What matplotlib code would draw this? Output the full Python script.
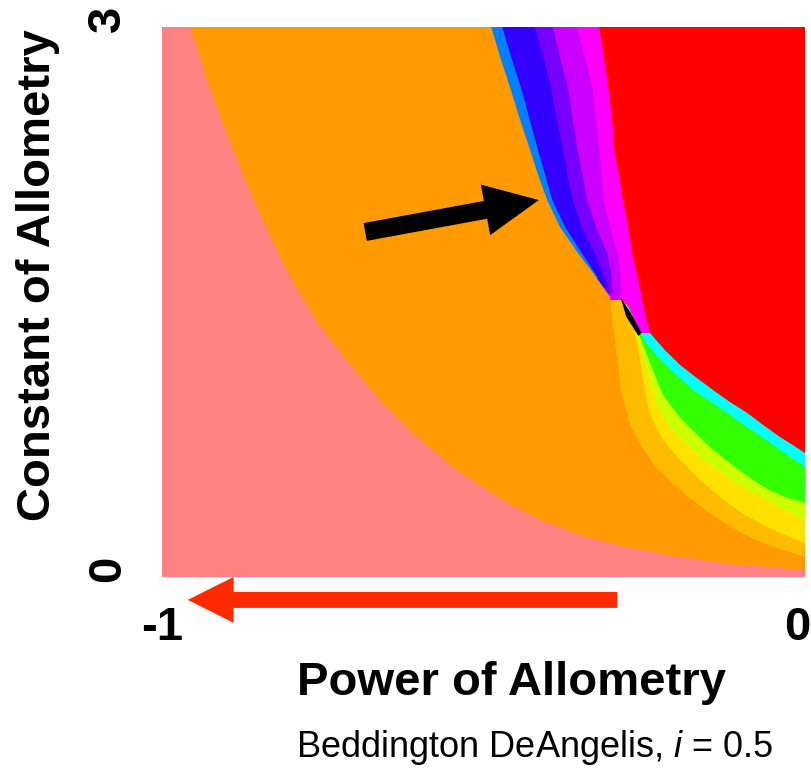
import matplotlib
matplotlib.use("Agg")
import matplotlib.pyplot as plt
import matplotlib.transforms as mtransforms

plt.rcParams['font.family'] = ['Liberation Sans', 'DejaVu Sans']
plt.rcParams['mathtext.fontset'] = 'custom'
plt.rcParams['mathtext.rm'] = 'Liberation Sans'
plt.rcParams['mathtext.it'] = 'Liberation Sans:italic'

# ---------------- data (power of allometry, constant of allometry) ----------------
x_ticks = [-1, 0]
x_ticklabels = ['-1', '0']
y_ticks = [0, 3]
y_ticklabels = ['0', '3']

# pink | orange boundary
pink_x = [-0.956, -0.930, -0.900, -0.866, -0.829, -0.798, -0.761, -0.714, -0.661,
          -0.610, -0.549, -0.470, -0.412, -0.350, -0.280, -0.194, -0.117, 0.0]
pink_y = [3.0, 2.711, 2.422, 2.127, 1.838, 1.620, 1.402, 1.184, 0.965,
          0.785, 0.600, 0.420, 0.311, 0.229, 0.164, 0.109, 0.071, 0.038]

# upper fan boundaries (top edge -> junction)
upper_y = [3.0, 2.836, 2.673, 2.493, 2.313, 2.182, 2.056, 1.909, 1.767, 1.675]
orange_blue_x = [-0.488, -0.474, -0.459, -0.443, -0.426, -0.414, -0.401, -0.381, -0.353, -0.333, -0.314, -0.303]
orange_blue_y = upper_y + [1.582, 1.527]
lblue_blue_x = [-0.471, -0.457, -0.442, -0.428, -0.414, -0.403, -0.393, -0.373, -0.347, -0.330, -0.322]
lblue_blue_y = upper_y + [1.631]
blue_violet_x = [-0.420, -0.407, -0.395, -0.386, -0.375, -0.369, -0.361, -0.347, -0.327, -0.316, -0.306]
blue_violet_y = upper_y + [1.576]
violet_purple_x = [-0.392, -0.381, -0.369, -0.361, -0.353, -0.345, -0.339, -0.325, -0.308, -0.302, -0.299]
violet_purple_y = upper_y + [1.544]
purple_magenta_x = [-0.355, -0.342, -0.331, -0.325, -0.319, -0.316, -0.313, -0.303, -0.292, -0.288, -0.286, -0.285]
purple_magenta_y = upper_y + [1.582, 1.511]
magenta_red_x = [-0.320, -0.313, -0.306, -0.300, -0.296, -0.289, -0.283, -0.275, -0.269, -0.263, -0.257, -0.250, -0.241]
magenta_red_y = upper_y + [1.582, 1.456, 1.331]

# lower fan boundaries (junction -> right edge)
red_cyan_x = [-0.241, -0.218, -0.194, -0.168, -0.143, -0.117, -0.090, -0.065, -0.039, -0.019, 0.0]
red_cyan_y = [1.331, 1.238, 1.156, 1.085, 1.020, 0.955, 0.895, 0.829, 0.764, 0.720, 0.676]
cyan_green_x = [-0.275, -0.260, -0.249, -0.229, -0.205, -0.174, -0.143, -0.117, -0.090, -0.065, -0.039, 0.0]
cyan_green_y = [1.478, 1.358, 1.282, 1.200, 1.118, 1.020, 0.949, 0.884, 0.818, 0.758, 0.693, 0.600]
green_yg_x = [-0.278, -0.263, -0.252, -0.238, -0.221, -0.194, -0.168, -0.143, -0.117, -0.090, -0.059, -0.031, 0.0]
green_yg_y = [1.489, 1.369, 1.265, 1.140, 0.993, 0.867, 0.775, 0.693, 0.622, 0.551, 0.480, 0.436, 0.404]
yg_yellow_x = [-0.281, -0.268, -0.257, -0.244, -0.230, -0.210, -0.179, -0.148, -0.117, -0.086, -0.054, -0.026, 0.0]
yg_yellow_y = [1.500, 1.391, 1.265, 1.102, 0.938, 0.813, 0.704, 0.611, 0.535, 0.469, 0.409, 0.355, 0.311]
yellow_gold_x = [-0.286, -0.272, -0.261, -0.252, -0.241, -0.221, -0.194, -0.163, -0.132, -0.098, -0.065, -0.031, 0.0]
yellow_gold_y = [1.511, 1.413, 1.282, 1.075, 0.884, 0.747, 0.638, 0.529, 0.436, 0.349, 0.284, 0.229, 0.185]
gold_orange_x = [-0.303, -0.299, -0.292, -0.285, -0.272, -0.253, -0.233, -0.207, -0.179, -0.148,
                 -0.117, -0.086, -0.054, -0.023, 0.0]
gold_orange_y = [1.527, 1.375, 1.184, 0.993, 0.829, 0.704, 0.605, 0.513, 0.431, 0.349,
                 0.278, 0.218, 0.169, 0.136, 0.109]

# dark sliver near the junction
sliver_x = [-0.287, -0.272, -0.254, -0.259, -0.278]
sliver_y = [1.527, 1.445, 1.331, 1.315, 1.420]

# annotation arrows
black_arrow_tail = (-0.684, 1.882)
black_arrow_tip = (-0.414, 2.056)
red_arrow_tail = (-0.292, -0.125)
red_arrow_tip = (-0.960, -0.125)

C_PINK = '#ff8282'
C_ORANGE = '#ff9a00'
C_GOLD = '#ffbb00'
C_YELLOW = '#ffe100'
C_YG = '#ccff00'
C_GREEN = '#33ff00'
C_CYAN = '#00ffff'
C_RED = '#ff0000'
C_LBLUE = '#0080ff'
C_BLUE = '#3300ff'
C_VIOLET = '#7700ff'
C_PURPLE = '#cc00ff'
C_MAGENTA = '#ff00ff'

# ---------------- figure ----------------
fig = plt.figure(figsize=(8.11, 7.68), dpi=100)
ax = fig.add_axes([162 / 811, (768 - 577) / 768, 643 / 811, 550 / 768])
ax.set_xlim(-1, 0)
ax.set_ylim(0, 3)
for s in ax.spines.values():
    s.set_visible(False)

kw = dict(lw=0, antialiased=True)

# background red region
ax.fill([-1, 0, 0, -1], [0, 0, 3, 3], color=C_RED, **kw)

def fill_left(xs, ys, color):
    px = list(xs) + [-1, -1]
    py = list(ys) + [ys[-1], 3]
    ax.fill(px, py, color=color, **kw)

def fill_below(xs, ys, color):
    px = list(xs) + [0, -1, -1]
    py = list(ys) + [0, 0, ys[0]]
    ax.fill(px, py, color=color, **kw)

fill_left(magenta_red_x, magenta_red_y, C_MAGENTA)
fill_left(purple_magenta_x, purple_magenta_y, C_PURPLE)
fill_left(violet_purple_x, violet_purple_y, C_VIOLET)
fill_left(blue_violet_x, blue_violet_y, C_BLUE)
fill_left(lblue_blue_x, lblue_blue_y, C_LBLUE)

fill_below(red_cyan_x, red_cyan_y, C_CYAN)
fill_below(cyan_green_x, cyan_green_y, C_GREEN)
fill_below(green_yg_x, green_yg_y, C_YG)
fill_below(yg_yellow_x, yg_yellow_y, C_YELLOW)
fill_below(yellow_gold_x, yellow_gold_y, C_GOLD)

ax.fill(sliver_x, sliver_y, color='black', **kw)

# orange region: left of the full orange boundary
ox = orange_blue_x + gold_orange_x[1:] + [0, -1, -1]
oy = orange_blue_y + gold_orange_y[1:] + [0, 0, 3]
ax.fill(ox, oy, color=C_ORANGE, **kw)

# pink region
ax.fill(pink_x + [0, -1, -1], pink_y + [0, 0, 3], color=C_PINK, **kw)

# arrows
ax.annotate('', xy=black_arrow_tip, xytext=black_arrow_tail, annotation_clip=False,
            arrowprops=dict(arrowstyle='simple,head_length=39,head_width=37,tail_width=13',
                            mutation_scale=1, color='black', shrinkA=0, shrinkB=0, lw=0))
ax.annotate('', xy=red_arrow_tip, xytext=red_arrow_tail, annotation_clip=False,
            arrowprops=dict(arrowstyle='simple,head_length=33,head_width=33,tail_width=11.5',
                            mutation_scale=1, color='#ff2a00', shrinkA=0, shrinkB=0, lw=0))

# ticks
ax.set_xticks(x_ticks)
ax.set_xticklabels(x_ticklabels, fontsize=34, fontweight='bold')
ax.set_yticks(y_ticks)
ax.set_yticklabels(y_ticklabels, fontsize=34, fontweight='bold', rotation=90, va='center')
ax.tick_params(axis='x', length=0, pad=21)
ax.tick_params(axis='y', length=0, pad=23)
for lab in ax.get_yticklabels():
    lab.set_transform(lab.get_transform() +
                      mtransforms.ScaledTranslation(0, 8 / 100, fig.dpi_scale_trans))
xl = ax.get_xticklabels()
xl[1].set_transform(xl[1].get_transform() +
                    mtransforms.ScaledTranslation(-8 / 100, 0, fig.dpi_scale_trans))

ax.set_xlabel('Power of Allometry', fontsize=34, fontweight='bold')
ax.xaxis.set_label_coords(0.543, -0.153)
ax.set_ylabel('Constant of Allometry', fontsize=34, fontweight='bold')
ax.yaxis.set_label_coords(-0.159, 0.549)

fig.text(535 / 811, 11 / 768, 'Beddington DeAngelis, $\\mathit{i}$ = 0.5',
         ha='center', va='baseline', fontsize=26)

fig.savefig('out.png', dpi=100)
